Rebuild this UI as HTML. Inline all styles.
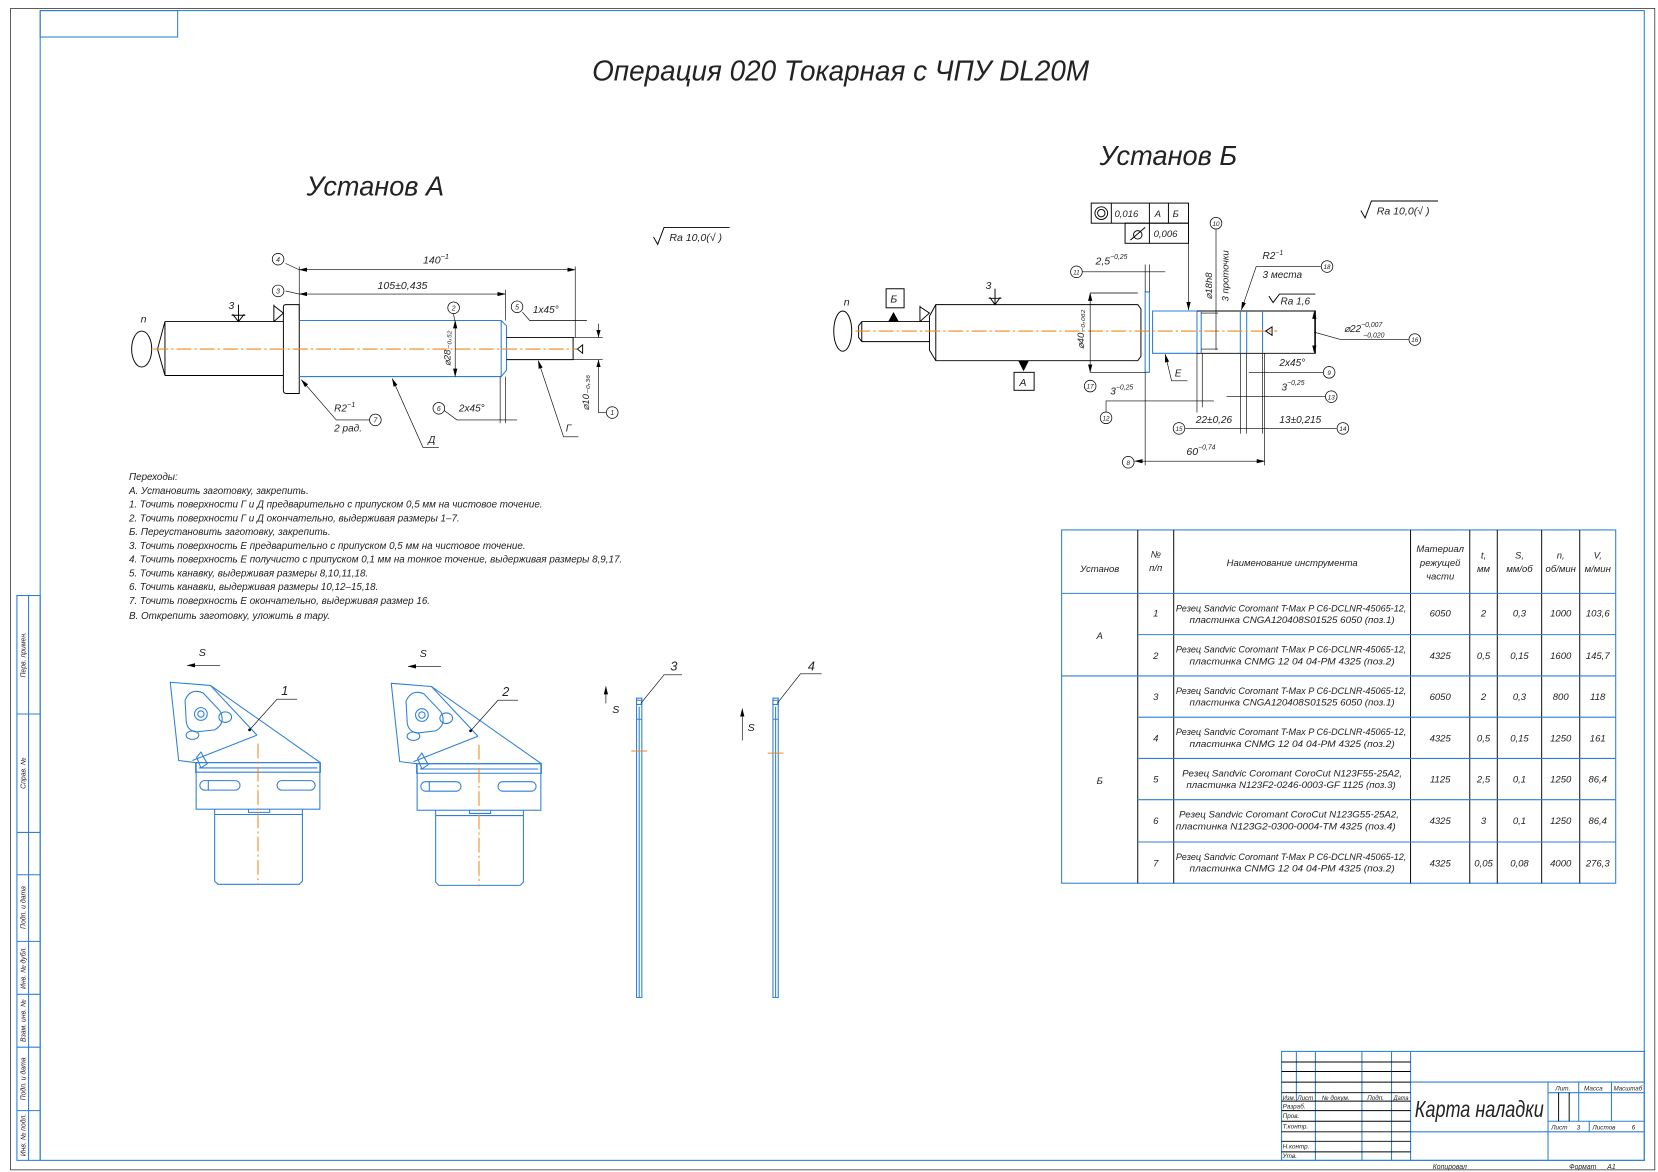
<!DOCTYPE html>
<html><head><meta charset="utf-8"><style>
html,body{margin:0;padding:0;background:#fff;}
svg{display:block;}
text{font-family:"Liberation Sans Narrow","Liberation Sans",sans-serif;font-style:italic;fill:#222;}
.k{stroke:#000;fill:none;stroke-width:0.9}
.kt{stroke:#000;fill:none;stroke-width:0.6}
.b{stroke:#2d7fd8;fill:none;stroke-width:1}
.bw{stroke:#2d7fd8;fill:#fff;stroke-width:1}
.o{stroke:#f08a1a;fill:none;stroke-width:1;stroke-dasharray:14 3 2 3}
.bl{fill:#fff;stroke:#000;stroke-width:0.7}
</style></head><body>
<svg width="1658" height="1172" viewBox="0 0 1568 1108" preserveAspectRatio="none" xmlns="http://www.w3.org/2000/svg">
<defs>
<marker id="ar" markerWidth="8" markerHeight="6" refX="7.5" refY="3" orient="auto-start-reverse" markerUnits="userSpaceOnUse"><path d="M0,1 L8,3 L0,5 z" fill="#000"/></marker>
</defs>
<rect x="10" y="8" width="1555" height="1098" class="kt"/>
<rect x="38" y="10" width="1517" height="1087" class="b" stroke-width="1.3"/>
<rect x="38" y="10" width="130" height="25" class="b"/>
<g class="b">
<rect x="16" y="563" width="22" height="534"/>
<line x1="27" y1="563" x2="27" y2="1097"/>
<line x1="16" y1="675" x2="38" y2="675"/><line x1="16" y1="787" x2="38" y2="787"/>
<line x1="16" y1="827" x2="38" y2="827"/><line x1="16" y1="890" x2="38" y2="890"/>
<line x1="16" y1="940" x2="38" y2="940"/><line x1="16" y1="990" x2="38" y2="990"/>
<line x1="16" y1="1050" x2="38" y2="1050"/>
</g>
<g font-size="6.5" text-anchor="middle">
<text transform="translate(24,619) rotate(-90)">Перв. примен.</text>
<text transform="translate(24,731) rotate(-90)">Справ. №</text>
<text transform="translate(24,858) rotate(-90)">Подп. и дата</text>
<text transform="translate(24,915) rotate(-90)">Инв. № дубл.</text>
<text transform="translate(24,965) rotate(-90)">Взам. инв. №</text>
<text transform="translate(24,1020) rotate(-90)">Подп. и дата</text>
<text transform="translate(24,1073) rotate(-90)">Инв. № подл.</text>
</g>

<text x="560" y="76" font-size="27" textLength="470" lengthAdjust="spacingAndGlyphs">Операция 020 Токарная с ЧПУ DL20M</text>
<text x="290" y="185" font-size="26" textLength="130" lengthAdjust="spacingAndGlyphs">Установ А</text>
<text x="1040" y="156" font-size="26" textLength="130" lengthAdjust="spacingAndGlyphs">Установ Б</text>

<g class="k"><path d="M618,224 L622,231 L628,215 L690,215"/><path d="M1287,199 L1291,206 L1297,190 L1360,190"/></g>
<text x="633" y="228" font-size="10">Ra 10,0(√ )</text>
<text x="1302" y="203" font-size="10">Ra 10,0(√ )</text>

<g>
<ellipse cx="134" cy="330" rx="9.5" ry="17" class="k"/>
<text x="133" y="305" font-size="10">n</text>
<path class="k" d="M156,304 L268,304 M156,355 L268,355 M156,304 L149,330 L156,355 M156,304 L156,355"/>
<path class="k" d="M268,290 Q268,288 271,288 L283,288 L283,372 L271,372 Q268,372 268,369 Z"/>
<path class="b" d="M283,303 L474,303 L479,308 L479,350 L474,356 L283,356 M474,303 L474,356"/>
<path class="k" d="M479,319 L542,319 L542,340 L479,340"/>
<line x1="145" y1="330" x2="546" y2="330" class="o"/>
<path class="k" d="M259,288 L259,304 M259,289 L268,296 L259,304"/>
<text x="216" y="292" font-size="10">3</text>
<path class="k" d="M225.5,288 L225.5,304 M220,297 L225.5,304 L231,297 M219,298 L232,298"/>
<path class="k" d="M546,330 L551,326 L551,334 Z"/>
<line x1="283" y1="252" x2="283" y2="303" class="kt"/>
<line x1="544" y1="252" x2="544" y2="319" class="kt"/>
<line x1="283" y1="255" x2="544" y2="255" class="kt" marker-start="url(#ar)" marker-end="url(#ar)"/>
<text x="400" y="249" font-size="10">140<tspan dy="-4" font-size="7">−1</tspan></text>
<line x1="478" y1="274" x2="478" y2="303" class="kt"/>
<line x1="283" y1="278" x2="478" y2="278" class="kt" marker-start="url(#ar)" marker-end="url(#ar)"/>
<text x="357" y="273" font-size="10">105±0,435</text>
<line x1="430.5" y1="303" x2="430.5" y2="356" class="kt" marker-start="url(#ar)" marker-end="url(#ar)"/>
<text transform="translate(426,346) rotate(-90)" font-size="9">⌀28₋₀,₅₂</text>
<line x1="270" y1="249" x2="283" y2="255" class="kt"/>
<line x1="270" y1="275" x2="283" y2="278" class="kt"/>
<line x1="429" y1="297" x2="430" y2="303" class="kt"/>
<path class="kt" d="M494,295 L501,303 L555,303"/>
<text x="504" y="296" font-size="9.5">1x45°</text>
<line x1="542" y1="319" x2="570" y2="319" class="kt"/><line x1="542" y1="340" x2="570" y2="340" class="kt"/>
<path class="kt" d="M566,306 L566,319 M566,340 L566,390 L573,390"/>
<path d="M566,319 l-2,-7 l4,0 z M566,340 l-2,7 l4,0 z" fill="#000"/>
<text transform="translate(557,388) rotate(-90)" font-size="9">⌀10₋₀,₃₆</text>
<path class="kt" d="M473,356 L473,400 M478,356 L478,400 M420,388 L432,397 L489,397"/>
<text x="434" y="389" font-size="9.5">2x45°</text>
<path class="kt" d="M285,359 L318,397 L350,397" marker-start="url(#ar)"/>
<text x="316" y="389" font-size="9.5">R2<tspan dy="-4" font-size="7">−1</tspan></text>
<text x="316" y="408" font-size="9.5">2 рад.</text>
<path class="kt" d="M371,358 L400,423 L415,423" marker-start="url(#ar)"/>
<text x="405" y="419" font-size="9.5">Д</text>
<path class="kt" d="M509,341 L533,413 L547,413" marker-start="url(#ar)"/>
<text x="535" y="408" font-size="9.5">Г</text>
<g font-size="6.5" text-anchor="middle">
<circle cx="263" cy="245" r="5.5" class="bl"/><text x="263" y="247.5">4</text>
<circle cx="263" cy="275" r="5.5" class="bl"/><text x="263" y="277.5">3</text>
<circle cx="429" cy="291" r="5.5" class="bl"/><text x="429" y="293.5">2</text>
<circle cx="489" cy="290" r="5.5" class="bl"/><text x="489" y="292.5">5</text>
<circle cx="415" cy="386" r="5.5" class="bl"/><text x="415" y="388.5">6</text>
<circle cx="355" cy="397" r="5.5" class="bl"/><text x="355" y="399.5">7</text>
<circle cx="579" cy="390" r="5.5" class="bl"/><text x="579" y="392.5">1</text>
</g>
</g>

<g>
<ellipse cx="797" cy="313" rx="8.5" ry="19" class="k"/>
<text x="798" y="289" font-size="10">n</text>
<path class="k" d="M815,304 L879,304 M815,323 L879,323 M815,304 L812,308 L812,319 L815,323 M815,304 L815,323"/>
<path class="k" d="M879,299 L885,288 L1076,288 L1079,292 L1079,337 L1076,341 L885,341 L879,331 Z M885,288 L885,341"/>
<path class="b" d="M1083,276 L1083,352 L1087,352 L1087,276 Z"/>
<path class="b" d="M1090,294 L1132,294 L1132,334 L1090,334 Z"/>
<path class="k" d="M1132,294 L1244,294 L1244,334 L1132,334"/>
<path class="b" d="M1136,294 L1136,334 M1173,294 L1173,334 M1179,294 L1179,334 M1194,294 L1194,334"/>
<line x1="809" y1="313" x2="1208" y2="313" class="o"/>
<path class="k" d="M1197,313 L1203,309 L1203,317 Z"/>
<rect x="838" y="273" width="17" height="18" class="k"/><text x="842" y="286" font-size="10">Б</text>
<path d="M845,295 L840,304 L850,304 Z" fill="#000"/>
<rect x="959" y="352" width="19" height="17" class="k"/><text x="964" y="365" font-size="10">А</text>
<path d="M968,351 L963,341 L973,341 Z" fill="#000"/>
<path class="k" d="M870,289 L870,304 M870,290 L879,296 L870,304"/>
<text x="932" y="273" font-size="10">3</text>
<path class="k" d="M941,273 L941,288 M936,281 L941,288 L946,281 M935,282 L947,282"/>
<g class="k">
<rect x="1032" y="192" width="92" height="19"/>
<line x1="1051" y1="192" x2="1051" y2="211"/><line x1="1087" y1="192" x2="1087" y2="211"/><line x1="1105" y1="192" x2="1105" y2="211"/>
<circle cx="1041.5" cy="201.5" r="6"/><circle cx="1041.5" cy="201.5" r="3.5"/>
<rect x="1064" y="211" width="60" height="19"/>
<line x1="1087" y1="211" x2="1087" y2="230"/>
<path d="M1069,227 L1083,215 M1072,222 a4,4 0 1,0 8,0 a4,4 0 1,0 -8,0"/>
</g>
<line x1="1124" y1="211" x2="1124" y2="293" class="kt" marker-end="url(#ar)"/>
<text x="1054" y="205" font-size="9">0,016</text><text x="1092" y="205" font-size="9">А</text><text x="1109" y="205" font-size="9">Б</text>
<text x="1091" y="224" font-size="9">0,006</text>
<path class="kt" d="M1031,277 L1076,277 M1031,352 L1083,352"/>
<line x1="1031" y1="277" x2="1031" y2="352" class="kt" marker-start="url(#ar)" marker-end="url(#ar)"/>
<text transform="translate(1025,330) rotate(-90)" font-size="9">⌀40₋₀,₀₆₂</text>
<line x1="1023" y1="257" x2="1102" y2="257" class="kt"/>
<line x1="1083" y1="250" x2="1083" y2="276" class="kt"/><line x1="1087" y1="250" x2="1087" y2="276" class="kt"/>
<text x="1036" y="250" font-size="10">2,5<tspan dy="-5" font-size="6.5">−0,25</tspan></text>
<line x1="1150" y1="217" x2="1150" y2="331" class="kt"/>
<path class="kt" d="M1136,296 L1152,296 M1136,330 L1152,330"/>
<text transform="translate(1146,283) rotate(-90)" font-size="9">⌀18h8</text>
<text transform="translate(1162,285) rotate(-90)" font-size="9">3 проточки</text>
<text x="1194" y="245" font-size="9.5">R2<tspan dy="-4" font-size="6.5">−1</tspan></text>
<text x="1194" y="263" font-size="9.5">3 места</text>
<path class="kt" d="M1249,252 L1188,252 L1174,293" marker-end="url(#ar)"/>
<path class="k" d="M1200,280 L1204,286 L1210,278 L1244,278"/>
<text x="1211" y="288" font-size="9.5">Ra 1,6</text>
<line x1="1243" y1="294" x2="1243" y2="334" class="kt" marker-start="url(#ar)" marker-end="url(#ar)"/>
<path class="kt" d="M1243,314 L1268,321 L1332,321"/>
<text x="1271" y="314" font-size="9.5">⌀22<tspan dy="-5" font-size="6.5">−0,007</tspan><tspan dx="-18" dy="10" font-size="6.5">−0,020</tspan></text>
<path class="kt" d="M1102,335 L1108,360 L1123,360" marker-start="url(#ar)"/>
<text x="1111" y="356" font-size="9.5">Е</text>
<path class="kt" d="M1083,352 L1083,440 M1196,334 L1196,440 M1132,334 L1132,390 M1137,334 L1137,385 M1173,334 L1173,410 M1179,334 L1179,410 M1194,334 L1194,410"/>
<line x1="1181" y1="352" x2="1252" y2="352" class="kt"/>
<text x="1210" y="346" font-size="9.5">2x45°</text>
<line x1="1160" y1="375" x2="1253" y2="375" class="kt"/>
<text x="1212" y="369" font-size="9.5">3<tspan dy="-5" font-size="6.5">−0,25</tspan></text>
<path class="kt" d="M1046,390 L1046,379 L1148,379"/>
<text x="1050" y="373" font-size="9.5">3<tspan dy="-5" font-size="6.5">−0,25</tspan></text>
<line x1="1121" y1="405" x2="1264" y2="405" class="kt"/>
<text x="1131" y="400" font-size="9.5">22±0,26</text>
<text x="1210" y="400" font-size="9.5">13±0,215</text>
<line x1="1073" y1="436" x2="1196" y2="436" class="kt" marker-start="url(#ar)" marker-end="url(#ar)"/>
<text x="1122" y="430" font-size="10">60<tspan dy="-5" font-size="6.5">−0,74</tspan></text>
<g font-size="6" text-anchor="middle">
<circle cx="1018" cy="257" r="5.5" class="bl"/><text x="1018" y="259.5">11</text>
<circle cx="1150" cy="211" r="5.5" class="bl"/><text x="1150" y="213.5">10</text>
<circle cx="1031" cy="365" r="5.5" class="bl"/><text x="1031" y="367.5">17</text>
<circle cx="1255" cy="252" r="5.5" class="bl"/><text x="1255" y="254.5">18</text>
<circle cx="1338" cy="321" r="5.5" class="bl"/><text x="1338" y="323.5">16</text>
<circle cx="1257" cy="352" r="5.5" class="bl"/><text x="1257" y="354.5">9</text>
<circle cx="1259" cy="375" r="5.5" class="bl"/><text x="1259" y="377.5">13</text>
<circle cx="1046" cy="395" r="5.5" class="bl"/><text x="1046" y="397.5">12</text>
<circle cx="1115" cy="405" r="5.5" class="bl"/><text x="1115" y="407.5">15</text>
<circle cx="1270" cy="405" r="5.5" class="bl"/><text x="1270" y="407.5">14</text>
<circle cx="1067" cy="437" r="5.5" class="bl"/><text x="1067" y="439.5">8</text>
</g>
</g>

<g font-size="9.3">
<text x="122" y="454">Переходы:</text>
<text x="122" y="467">А. Установить заготовку, закрепить.</text>
<text x="122" y="480">1. Точить поверхности Г и Д предварительно с припуском 0,5 мм на чистовое точение.</text>
<text x="122" y="493">2. Точить поверхности Г и Д окончательно, выдерживая размеры 1–7.</text>
<text x="122" y="506">Б. Переустановить заготовку, закрепить.</text>
<text x="122" y="519">3. Точить поверхность Е предварительно с припуском 0,5 мм на чистовое точение.</text>
<text x="122" y="532">4. Точить поверхность Е получисто с припуском 0,1 мм на тонкое точение, выдерживая размеры 8,9,17.</text>
<text x="122" y="545">5. Точить канавку, выдерживая размеры 8,10,11,18.</text>
<text x="122" y="558">6. Точить канавки, выдерживая размеры 10,12–15,18.</text>
<text x="122" y="571">7. Точить поверхность Е окончательно, выдерживая размер 16.</text>
<text x="122" y="585">В. Открепить заготовку, уложить в тару.</text>
</g>

<g id="t1">
<line x1="177" y1="629" x2="208" y2="629" class="kt" marker-start="url(#ar)"/>
<text x="188" y="620" font-size="10">S</text>
<path class="b" d="M161,645 L199,648 L303,721 L303,730 L185,730 L185,721 L169,719 Z"/>
<path class="b" d="M185,721 L303,721 M188,726 L300,726 M182,719 L243,695 M199,648 L243,695"/>
<path class="b" d="M175,662 Q180,650 192,655 L208,672 Q214,684 203,690 L185,692 Q176,690 176,680 Z"/>
<circle cx="190" cy="675" r="6" class="b"/><circle cx="190" cy="675" r="3" class="b"/>
<ellipse cx="213" cy="678" rx="6" ry="5" class="b"/><ellipse cx="182" cy="695" rx="6" ry="4" class="b"/>
<path class="b" d="M186,716 L190,711 L196,722 L190,726 Z"/>
<rect x="185.5" y="721" width="117" height="44" class="b"/>
<rect x="189" y="738" width="38" height="9" rx="4.5" class="b"/><line x1="197" y1="738" x2="197" y2="747" class="b"/>
<rect x="262" y="738" width="36" height="9" rx="4.5" class="b"/>
<path class="b" d="M203,765 L203,833 L206,836 L283,836 L286,833 L286,765 M203,770 L286,770 M235,765 L235,768 L255,768 L255,765"/>
<line x1="244" y1="703" x2="244" y2="837" class="o"/>
<path class="kt" d="M236,690 L262,661 L281,661"/>
<circle cx="236" cy="690" r="1.3" fill="#000"/>
<text x="266" y="657" font-size="12">1</text>
</g>
<g transform="translate(209,1)">
<line x1="177" y1="629" x2="208" y2="629" class="kt" marker-start="url(#ar)"/>
<text x="188" y="620" font-size="10">S</text>
<path class="b" d="M161,645 L199,648 L303,721 L303,730 L185,730 L185,721 L169,719 Z"/>
<path class="b" d="M185,721 L303,721 M188,726 L300,726 M182,719 L243,695 M199,648 L243,695"/>
<path class="b" d="M175,662 Q180,650 192,655 L208,672 Q214,684 203,690 L185,692 Q176,690 176,680 Z"/>
<circle cx="190" cy="675" r="6" class="b"/><circle cx="190" cy="675" r="3" class="b"/>
<ellipse cx="213" cy="678" rx="6" ry="5" class="b"/><ellipse cx="182" cy="695" rx="6" ry="4" class="b"/>
<path class="b" d="M186,716 L190,711 L196,722 L190,726 Z"/>
<rect x="185.5" y="721" width="117" height="44" class="b"/>
<rect x="189" y="738" width="38" height="9" rx="4.5" class="b"/><line x1="197" y1="738" x2="197" y2="747" class="b"/>
<rect x="262" y="738" width="36" height="9" rx="4.5" class="b"/>
<path class="b" d="M203,765 L203,833 L206,836 L283,836 L286,833 L286,765 M203,770 L286,770 M235,765 L235,768 L255,768 L255,765"/>
<line x1="244" y1="703" x2="244" y2="837" class="o"/>
<path class="kt" d="M236,690 L262,661 L281,661"/>
<circle cx="236" cy="690" r="1.3" fill="#000"/>
<text x="266" y="657" font-size="12">2</text>
</g>
<g>
<path class="b" d="M602,662 L607,662 L607,943 L602,943 Z M604.5,668 L604.5,943 M602,680 L607,680"/>
<rect x="602" y="660" width="5" height="6" class="b"/>
<line x1="597" y1="710" x2="612" y2="710" stroke="#f08a1a"/>
<path class="kt" d="M606,665 L628,638 L645,638"/><text x="634" y="634" font-size="12">3</text>
<line x1="573" y1="665" x2="573" y2="649" class="kt" marker-end="url(#ar)"/><text x="579" y="674" font-size="10">S</text>
<path class="b" d="M731,662 L736,662 L736,943 L731,943 Z M733.5,668 L733.5,943 M731,680 L736,680"/>
<rect x="731" y="660" width="5" height="6" class="b"/>
<line x1="726" y1="712" x2="741" y2="712" stroke="#f08a1a"/>
<path class="kt" d="M735,665 L757,637 L777,637"/><text x="764" y="634" font-size="12">4</text>
<line x1="702" y1="700" x2="702" y2="670" class="kt" marker-end="url(#ar)"/><text x="707" y="691" font-size="10">S</text>
</g>

<g>
<rect x="1004" y="501" width="524" height="334" class="b" stroke-width="1.2"/>
<g class="k">
<line x1="1076" y1="501" x2="1076" y2="835"/><line x1="1110" y1="501" x2="1110" y2="835"/>
<line x1="1334" y1="501" x2="1334" y2="835"/><line x1="1390" y1="501" x2="1390" y2="835"/>
<line x1="1416" y1="501" x2="1416" y2="835"/><line x1="1458" y1="501" x2="1458" y2="835"/>
<line x1="1494" y1="501" x2="1494" y2="835"/>
</g>
<g class="b">
<line x1="1004" y1="561" x2="1528" y2="561"/><line x1="1076" y1="600" x2="1528" y2="600"/>
<line x1="1004" y1="639" x2="1528" y2="639"/><line x1="1076" y1="678" x2="1528" y2="678"/>
<line x1="1076" y1="717" x2="1528" y2="717"/><line x1="1076" y1="756" x2="1528" y2="756"/>
<line x1="1076" y1="796" x2="1528" y2="796"/>
</g>
<g font-size="9" text-anchor="middle">
<text x="1040" y="541">Установ</text>
<text x="1093" y="527">№</text><text x="1093" y="540">п/п</text>
<text x="1222" y="535">Наименование инструмента</text>
<text x="1362" y="522">Материал</text><text x="1362" y="535">режущей</text><text x="1362" y="548">части</text>
<text x="1403" y="528">t,</text><text x="1403" y="541">мм</text>
<text x="1437" y="528">S,</text><text x="1437" y="541">мм/об</text>
<text x="1476" y="528">n,</text><text x="1476" y="541">об/мин</text>
<text x="1511" y="528">V,</text><text x="1511" y="541">м/мин</text>
<text x="1040" y="604">А</text><text x="1040" y="741">Б</text>
</g>
<g font-size="9" text-anchor="middle">
<text x="1093" y="583">1</text>
<text x="1362" y="583">6050</text><text x="1403" y="583">2</text><text x="1437" y="583">0,3</text><text x="1476" y="583">1000</text><text x="1511" y="583">103,6</text>
<text x="1093" y="623">2</text>
<text x="1362" y="623">4325</text><text x="1403" y="623">0,5</text><text x="1437" y="623">0,15</text><text x="1476" y="623">1600</text><text x="1511" y="623">145,7</text>
<text x="1093" y="662">3</text>
<text x="1362" y="662">6050</text><text x="1403" y="662">2</text><text x="1437" y="662">0,3</text><text x="1476" y="662">800</text><text x="1511" y="662">118</text>
<text x="1093" y="701">4</text>
<text x="1362" y="701">4325</text><text x="1403" y="701">0,5</text><text x="1437" y="701">0,15</text><text x="1476" y="701">1250</text><text x="1511" y="701">161</text>
<text x="1093" y="740">5</text>
<text x="1362" y="740">1125</text><text x="1403" y="740">2,5</text><text x="1437" y="740">0,1</text><text x="1476" y="740">1250</text><text x="1511" y="740">86,4</text>
<text x="1093" y="779">6</text>
<text x="1362" y="779">4325</text><text x="1403" y="779">3</text><text x="1437" y="779">0,1</text><text x="1476" y="779">1250</text><text x="1511" y="779">86,4</text>
<text x="1093" y="819">7</text>
<text x="1362" y="819">4325</text><text x="1403" y="819">0,05</text><text x="1437" y="819">0,08</text><text x="1476" y="819">4000</text><text x="1511" y="819">276,3</text>
</g>
<g font-size="8.3">
<text x="1112" y="578" textLength="218" lengthAdjust="spacingAndGlyphs">Резец Sandvic Coromant T-Max P C6-DCLNR-45065-12,</text><text x="1125" y="589" textLength="194" lengthAdjust="spacingAndGlyphs">пластинка CNGA120408S01525 6050 (поз.1)</text>
<text x="1112" y="617" textLength="218" lengthAdjust="spacingAndGlyphs">Резец Sandvic Coromant T-Max P C6-DCLNR-45065-12,</text><text x="1125" y="628" textLength="194" lengthAdjust="spacingAndGlyphs">пластинка CNMG 12 04 04-PM 4325 (поз.2)</text>
<text x="1112" y="656" textLength="218" lengthAdjust="spacingAndGlyphs">Резец Sandvic Coromant T-Max P C6-DCLNR-45065-12,</text><text x="1125" y="667" textLength="194" lengthAdjust="spacingAndGlyphs">пластинка CNGA120408S01525 6050 (поз.1)</text>
<text x="1112" y="695" textLength="218" lengthAdjust="spacingAndGlyphs">Резец Sandvic Coromant T-Max P C6-DCLNR-45065-12,</text><text x="1125" y="706" textLength="194" lengthAdjust="spacingAndGlyphs">пластинка CNMG 12 04 04-PM 4325 (поз.2)</text>
<text x="1118" y="734" textLength="208" lengthAdjust="spacingAndGlyphs">Резец Sandvic Coromant CoroCut N123F55-25A2,</text><text x="1122" y="745" textLength="198" lengthAdjust="spacingAndGlyphs">пластинка N123F2-0246-0003-GF 1125 (поз.3)</text>
<text x="1115" y="773" textLength="208" lengthAdjust="spacingAndGlyphs">Резец Sandvic Coromant CoroCut N123G55-25A2,</text><text x="1112" y="784" textLength="208" lengthAdjust="spacingAndGlyphs">пластинка N123G2-0300-0004-TM 4325 (поз.4)</text>
<text x="1112" y="813" textLength="218" lengthAdjust="spacingAndGlyphs">Резец Sandvic Coromant T-Max P C6-DCLNR-45065-12,</text><text x="1125" y="824" textLength="194" lengthAdjust="spacingAndGlyphs">пластинка CNMG 12 04 04-PM 4325 (поз.2)</text>
</g>
</g>

<g>
<rect x="1212" y="994" width="343" height="103" class="b" stroke-width="1.2"/>
<g class="b">
<line x1="1226" y1="994" x2="1226" y2="1041"/>
<line x1="1244" y1="994" x2="1244" y2="1097"/><line x1="1288" y1="994" x2="1288" y2="1097"/>
<line x1="1316" y1="994" x2="1316" y2="1097"/><line x1="1334" y1="994" x2="1334" y2="1097"/>
<line x1="1334" y1="1023" x2="1555" y2="1023"/><line x1="1334" y1="1070" x2="1555" y2="1070"/>
<line x1="1464" y1="1023" x2="1464" y2="1097"/>
<line x1="1464" y1="1033" x2="1555" y2="1033"/><line x1="1464" y1="1060" x2="1555" y2="1060"/>
<line x1="1493" y1="1023" x2="1493" y2="1060"/><line x1="1524" y1="1023" x2="1524" y2="1060"/>
<line x1="1503" y1="1060" x2="1503" y2="1070"/>
</g>
<g class="k">
<line x1="1212" y1="1004" x2="1334" y2="1004"/><line x1="1212" y1="1013" x2="1334" y2="1013"/>
<line x1="1212" y1="1023" x2="1334" y2="1023"/><line x1="1212" y1="1033" x2="1334" y2="1033"/>
<line x1="1212" y1="1041" x2="1334" y2="1041"/><line x1="1212" y1="1050" x2="1334" y2="1050"/>
<line x1="1212" y1="1060" x2="1334" y2="1060"/><line x1="1212" y1="1070" x2="1334" y2="1070"/>
<line x1="1212" y1="1079" x2="1334" y2="1079"/><line x1="1212" y1="1089" x2="1334" y2="1089"/>
<line x1="1474" y1="1033" x2="1474" y2="1060"/><line x1="1484" y1="1033" x2="1484" y2="1060"/>
</g>
<g font-size="6">
<text x="1213" y="1040" textLength="12" lengthAdjust="spacingAndGlyphs">Изм.</text><text x="1227" y="1040" textLength="15" lengthAdjust="spacingAndGlyphs">Лист</text><text x="1250" y="1040">№ докум.</text><text x="1293" y="1040">Подп.</text><text x="1318" y="1040" textLength="14" lengthAdjust="spacingAndGlyphs">Дата</text>
<text x="1213" y="1048">Разраб.</text><text x="1213" y="1057">Пров.</text><text x="1213" y="1067">Т.контр.</text>
<text x="1213" y="1086">Н.контр.</text><text x="1213" y="1095">Утв.</text>
<text x="1471" y="1031">Лит.</text><text x="1498" y="1031">Масса</text><text x="1526" y="1031" textLength="27" lengthAdjust="spacingAndGlyphs">Масштаб</text>
<text x="1467" y="1068">Лист</text><text x="1491" y="1068">3</text><text x="1506" y="1068">Листов</text><text x="1543" y="1068">6</text>
</g>
<text x="1338" y="1056" font-size="22" textLength="122" lengthAdjust="spacingAndGlyphs">Карта наладки</text>
<text x="1355" y="1105" font-size="6.5">Копировал</text>
<text x="1484" y="1105" font-size="6.5">Формат</text><text x="1520" y="1105" font-size="6.5">А1</text>
</g>
</svg>
</body></html>
